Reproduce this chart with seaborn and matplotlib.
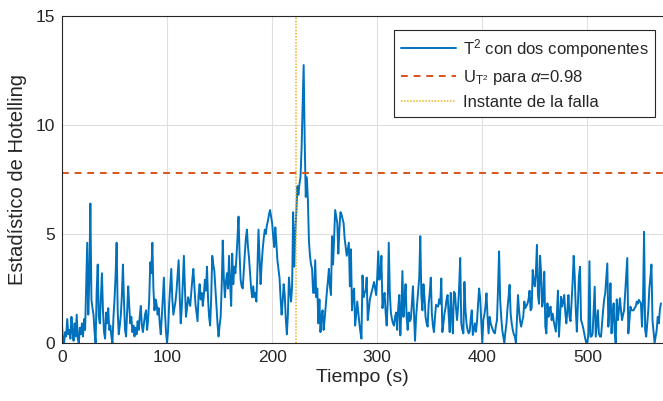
import numpy as np
import pandas as pd
import matplotlib
matplotlib.use('Agg')
import matplotlib.pyplot as plt
import seaborn as sns

# Estadístico T^2 (una muestra por segundo)
t2 = [
    0.8, 0.1, 0.0, 0.5, 0.3, 1.1, 0.4, 0.6, 0.2, 1.2, 0.5, 0.1, 0.9, 0.3, 1.3, 0.2, 0.0, 0.7, 0.4, 0.9,
    0.3, 1.1, 0.6, 2.5, 4.6, 1.3, 3.0, 6.4, 2.0, 1.6, 1.3, 0.5, 0.0, 2.4, 3.6, 1.2, 0.9, 2.1, 3.2, 1.5,
    0.5, 0.2, 1.4, 0.9, 1.6, 0.6, 0.8, 0.3, 0.0, 1.2, 2.0, 3.1, 4.6, 1.5, 0.4, 0.8, 1.3, 2.2, 3.6, 1.9,
    0.6, 0.3, 1.5, 2.6, 1.7, 0.9, 1.2, 0.5, 0.8, 0.3, 0.7, 0.4, 1.0, 0.6, 1.2, 1.7, 0.8, 0.5, 0.9, 1.3,
    1.5, 0.6, 1.1, 2.0, 3.7, 3.2, 4.6, 2.5, 1.5, 2.0, 1.8, 1.3, 1.6, 0.9, 0.4, 1.2, 2.1, 3.0, 1.4, 0.5,
    0.0, 0.6, 1.8, 2.6, 3.4, 2.0, 1.3, 1.6, 1.9, 2.4, 3.1, 3.8, 2.2, 0.9, 1.6, 2.8, 4.0, 2.5, 1.2, 1.6,
    2.1, 1.9, 1.7, 2.3, 2.9, 3.4, 2.6, 1.8, 1.4, 1.0, 2.2, 2.7, 2.0, 2.3, 1.7, 2.2, 2.9, 2.4, 3.5, 2.0,
    1.2, 0.8, 2.1, 4.0, 3.6, 3.3, 2.5, 1.7, 0.9, 0.3, 0.8, 1.2, 2.6, 4.7, 3.0, 2.1, 2.8, 3.2, 2.5, 4.0,
    2.7, 1.7, 4.1, 2.7, 3.5, 3.2, 3.9, 4.8, 5.8, 4.1, 2.9, 2.6, 2.5, 3.3, 4.1, 4.8, 5.2, 4.4, 3.9, 3.2,
    2.5, 2.1, 2.6, 2.1, 2.3, 1.9, 3.4, 5.2, 4.0, 2.7, 3.6, 4.3, 4.8, 5.2, 5.0, 5.4, 5.6, 5.9, 6.1, 5.8,
    5.5, 4.9, 4.4, 5.3, 4.6, 3.8, 3.4, 3.0, 2.1, 1.3, 1.9, 2.7, 2.2, 1.1, 0.4, 1.3, 3.0, 2.4, 1.9, 2.6,
    6.0, 3.5, 5.0, 6.0, 7.2, 6.8, 7.3, 7.6, 8.9, 10.8, 12.75, 9.2, 6.7, 7.6, 6.6, 4.7, 4.0, 3.6, 3.4, 2.3,
    2.3, 3.8, 2.1, 2.5, 0.9, 2.0, 0.5, 1.2, 1.5, 0.6, 1.1, 1.7, 2.3, 2.8, 3.4, 2.6, 2.2, 4.9, 3.6, 4.8,
    6.1, 5.8, 5.5, 4.1, 5.2, 6.0, 5.9, 5.7, 5.5, 4.8, 4.4, 4.0, 4.3, 4.6, 2.6, 4.3, 1.5, 2.3, 2.5, 0.8,
    1.3, 1.9, 1.4, 0.9, 0.5, 0.2, 3.1, 2.1, 2.3, 2.4, 3.0, 1.05, 1.5, 2.0, 2.2, 2.4, 2.6, 2.8, 2.5, 2.2,
    3.0, 4.2, 2.9, 3.1, 4.0, 1.6, 2.0, 2.3, 1.4, 0.8, 1.9, 4.6, 2.3, 1.4, 1.1, 0.9, 0.8, 1.2, 1.4, 0.6,
    1.6, 2.2, 0.35, 1.5, 3.3, 1.2, 1.9, 2.7, 1.2, 0.6, 1.4, 1.0, 1.1, 1.8, 2.6, 1.4, 0.1, 1.2, 1.8, 2.4,
    3.0, 4.9, 2.2, 1.5, 2.7, 2.1, 1.2, 0.9, 0.75, 1.8, 2.3, 3.0, 1.35, 0.8, 0.5, 1.2, 1.75, 1.7, 1.67, 2.0,
    1.8, 2.96, 0.5, 0.9, 1.35, 1.6, 2.0, 2.2, 1.3, 0.5, 2.3, 1.2, 0.44, 2.35, 2.28, 1.6, 1.05, 1.67, 2.6, 3.9,
    0.9, 0.6, 0.44, 2.8, 1.5, 0.9, 0.6, 0.44, 0.52, 1.1, 1.5, 0.37, 0.6, 0.9, 0.52, 1.0, 1.8, 2.5, 2.05, 1.0,
    0.0, 1.05, 1.3, 1.67, 2.28, 1.2, 0.44, 1.2, 0.9, 0.75, 0.6, 0.5, 0.44, 0.8, 1.05, 2.5, 4.2, 2.0, 1.2, 0.6,
    0.3, 0.0, 0.5, 0.9, 1.6, 2.1, 2.67, 1.35, 0.9, 0.6, 0.4, 0.3, 0.0, 1.1, 2.2, 1.5, 1.0, 0.75, 1.0, 1.2,
    1.9, 1.6, 1.7, 1.8, 2.0, 2.4, 1.5, 1.6, 3.35, 2.8, 2.6, 3.2, 4.5, 2.2, 1.8, 4.0, 3.2, 1.67, 2.0, 3.27,
    0.75, 0.44, 1.82, 1.2, 1.5, 1.67, 1.05, 1.35, 1.0, 0.75, 0.52, 1.3, 2.4, 0.29, 1.2, 2.12, 1.67, 1.9, 2.2, 1.4,
    0.9, 1.5, 2.2, 1.2, 1.0, 1.9, 2.8, 4.0, 3.04, 1.5, 0.52, 1.8, 3.04, 3.5, 1.05, 0.9, 0.7, 0.44, 0.2, 0.0,
    0.0, 0.44, 3.75, 0.29, 0.3, 0.44, 1.5, 2.58, 0.29, 0.9, 1.5, 0.44, 0.3, 0.29, 0.9, 1.5, 2.0, 2.28, 3.0, 3.65,
    0.75, 1.6, 2.74, 0.44, 1.2, 1.82, 0.5, 0.0, 2.0, 1.05, 1.5, 2.05, 1.5, 1.05, 1.3, 1.5, 2.28, 3.1, 3.9, 0.44,
    1.0, 1.67, 1.5, 1.5, 1.5, 1.6, 1.67, 1.9, 1.8, 1.98, 1.9, 1.82, 0.75, 2.0, 5.1, 0.6, 0.29, 0.9, 1.5, 2.5,
    3.0, 3.6, 1.05, 0.5, 0.0, 0.3, 0.6, 1.2, 0.9, 1.5, 1.82,
]

umbral = 7.82        # U_{T^2} para alpha = 0.98
t_falla = 223        # instante de la falla (s)
x_max = 572

df = pd.DataFrame({'Tiempo': np.arange(len(t2)), 'T2': t2})

sns.set_style('white')
plt.rcParams['font.family'] = ['Liberation Sans', 'DejaVu Sans']
plt.rcParams['mathtext.fontset'] = 'custom'
plt.rcParams['mathtext.rm'] = 'Liberation Sans'
plt.rcParams['mathtext.it'] = 'Liberation Sans:italic'

azul = '#0072BD'
naranja = '#D95319'
amarillo = '#EDB120'

fig = plt.figure(figsize=(6.63, 4.01), dpi=100)
ax = fig.add_axes([62 / 663, 1 - 343 / 401, (663 - 62) / 663, (343 - 16) / 401])

sns.lineplot(data=df, x='Tiempo', y='T2', ax=ax, color=azul, linewidth=1.4,
             label=r'T$^2$ con dos componentes')
ax.axhline(umbral, color=naranja, linestyle=(0, (3.5, 3)), linewidth=1.4,
           label=r'U$_{\mathrm{T}^{\mathrm{2}}}$ para $\alpha$=0.98')
ax.axvline(t_falla, color=amarillo, linestyle=(0, (1, 1)), linewidth=1.1,
           label='Instante de la falla')

ax.set_xlim(0, x_max)
ax.set_ylim(0, 15)
ax.set_xticks([0, 100, 200, 300, 400, 500])
ax.set_yticks([0, 5, 10, 15])
ax.grid(True, color='#dfdfdf', linewidth=0.8)
ax.set_axisbelow(True)
ax.tick_params(direction='in', length=4, width=0.8, colors='#262626',
               labelsize=12.5, pad=5)
for s in ['left', 'bottom', 'top']:
    ax.spines[s].set_color('#262626')
    ax.spines[s].set_linewidth(0.8)
ax.spines['right'].set_visible(False)

ax.set_xlabel('Tiempo (s)', fontsize=14, color='#262626', labelpad=3)
ax.set_ylabel('Estadístico de Hotelling', fontsize=14.5, color='#262626', labelpad=6)

leg = ax.legend(loc='upper right', bbox_to_anchor=(0.987, 0.957), borderaxespad=0,
                fontsize=12, fancybox=False, framealpha=1, edgecolor='#262626',
                handlelength=3.3, labelspacing=0.5, borderpad=0.4, handletextpad=0.4)
leg.get_frame().set_linewidth(0.8)

fig.savefig('out.png', dpi=100)
